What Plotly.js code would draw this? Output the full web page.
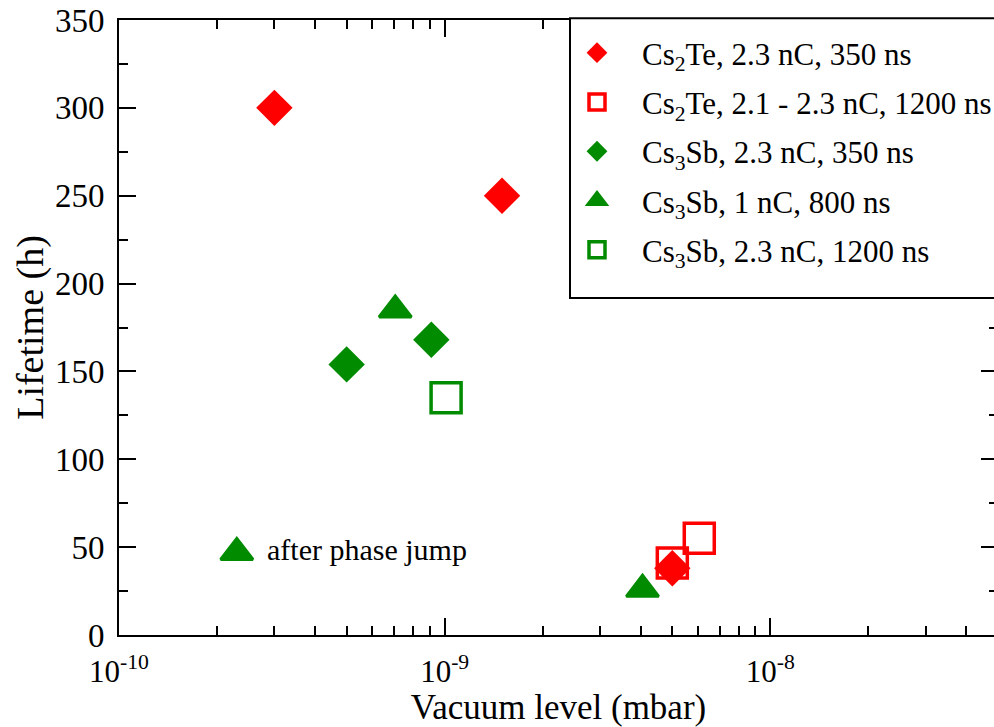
<!DOCTYPE html>
<html>
<head>
<meta charset="utf-8">
<script src="https://cdn.plot.ly/plotly-3.0.1.min.js"></script>
<style>
html, body { margin: 0; padding: 0; overflow: hidden; background: #fff; }
#chart { width: 1000px; height: 727px; }
</style>
</head>
<body>
<div id="chart"></div>
<script>
// ---- data ----
const cs2te350_x = [3.0e-10, 1.5e-9, 5.0e-9];
const cs2te350_y = [300, 250, 38];

const cs2te1200_x = [5.0e-9, 6.05e-9];
const cs2te1200_y = [41, 55];

const cs3sb350_x = [5.0e-10, 9.1e-10];
const cs3sb350_y = [154, 168];

const cs3sb800_x = [7.05e-10, 4.05e-9, 2.3e-10];
const cs3sb800_y = [185, 26, 47];

const cs3sb1200_x = [1.01e-9];
const cs3sb1200_y = [135];

const seriesNames = [
  'Cs<sub>2</sub>Te, 2.3 nC, 350 ns',
  'Cs<sub>2</sub>Te, 2.1 - 2.3 nC, 1200 ns',
  'Cs<sub>3</sub>Sb, 2.3 nC, 350 ns',
  'Cs<sub>3</sub>Sb, 1 nC, 800 ns',
  'Cs<sub>3</sub>Sb, 2.3 nC, 1200 ns'
];

const xTickVals = [1e-10, 1e-9, 1e-8];
const xTickText = ['10<sup>-10</sup>', '10<sup>-9</sup>', '10<sup>-8</sup>'];
const yTickVals = [0, 50, 100, 150, 200, 250, 300, 350];

const noteText = 'after phase jump';
const noteIndex = 2; // point of the 800 ns series that carries the note

// ---- styling ----
const RED = '#ff0000';
const GREEN = '#008b00';
const FONT = '"Liberation Serif", "Times New Roman", Times, serif';

function tr(x, y, name, symbol, color, size, lineW, grp) {
  return {
    type: 'scatter', mode: 'markers', x: x, y: y, name: name,
    legendgroup: grp,
    marker: { symbol: symbol, color: color, size: size,
              line: { color: color, width: lineW } },
    hoverinfo: 'x+y'
  };
}

const traces = [
  tr(cs2te1200_x, cs2te1200_y, seriesNames[1], 'square-open', RED, 30, 3.5, 'b'),
  tr(cs2te350_x, cs2te350_y, seriesNames[0], 'diamond', RED, 28, 0, 'a'),
  tr(cs3sb350_x, cs3sb350_y, seriesNames[2], 'diamond', GREEN, 28, 0, 'c'),
  tr(cs3sb800_x, cs3sb800_y, seriesNames[3], 'triangle-up', GREEN, 28, 3, 'd'),
  tr(cs3sb1200_x, cs3sb1200_y, seriesNames[4], 'square-open', GREEN, 30, 3.5, 'e')
];
traces[0].legendrank = 2;
traces[1].legendrank = 1;
traces[2].legendrank = 3;
traces[3].legendrank = 4;
traces[4].legendrank = 5;

const axisCommon = {
  showgrid: false, zeroline: false,
  showline: true, linecolor: '#000', linewidth: 2,
  mirror: 'allticks',
  ticks: 'inside', ticklen: 17, tickwidth: 2, tickcolor: '#000',
  tickfont: { family: FONT, size: 33, color: '#000' }
};

const layout = {
  width: 1000, height: 727,
  margin: { l: 119, r: 2, t: 20, b: 92 },
  paper_bgcolor: '#fff', plot_bgcolor: '#fff',
  font: { family: FONT, color: '#000' },
  showlegend: true,
  xaxis: Object.assign({}, axisCommon, {
    type: 'log',
    range: [Math.log10(1e-10), Math.log10(5e-8)],
    tickmode: 'array', tickvals: xTickVals, ticktext: xTickText,
    tickfont: { family: FONT, size: 31, color: '#000' },
    ticklabelstandoff: 8,
    minor: { ticks: 'inside', ticklen: 9, tickwidth: 2, tickcolor: '#000', dtick: 'D1', showgrid: false },
    title: { text: 'Vacuum level (mbar)', font: { family: FONT, size: 35, color: '#000' }, standoff: 2 }
  }),
  yaxis: Object.assign({}, axisCommon, {
    range: [0, 350],
    tickmode: 'array', tickvals: yTickVals,
    minor: { ticks: 'inside', ticklen: 9, tickwidth: 2, tickcolor: '#000', dtick: 25, showgrid: false },
    ticklabelstandoff: 6,
    title: { text: 'Lifetime (h)', font: { family: FONT, size: 38, color: '#000' }, standoff: 0 }
  }),
  shapes: [{
    type: 'rect', xref: 'paper', yref: 'paper', layer: 'above',
    x0: (570 - 119) / 879, x1: 1.02, y0: (635 - 298) / 615, y1: 1.003,
    line: { color: '#000', width: 2 }, fillcolor: '#fff'
  }],
  legend: {
    x: (552 - 119) / 879, xanchor: 'left', y: (635 - 26) / 615, yanchor: 'top',
    bgcolor: 'rgba(0,0,0,0)', borderwidth: 0,
    font: { family: FONT, size: 31, color: '#000' },
    traceorder: 'grouped', tracegroupgap: 6,
    itemsizing: 'trace', itemwidth: 80
  },
  annotations: [{
    x: Math.log10(cs3sb800_x[noteIndex]), y: cs3sb800_y[noteIndex],
    xref: 'x', yref: 'y', text: noteText, showarrow: false,
    xanchor: 'left', yanchor: 'middle', xshift: 28, yshift: 3,
    font: { family: FONT, size: 30, color: '#000' }
  }]
};

Plotly.newPlot('chart', traces, layout, { displayModeBar: false, staticPlot: true });
</script>
</body>
</html>
